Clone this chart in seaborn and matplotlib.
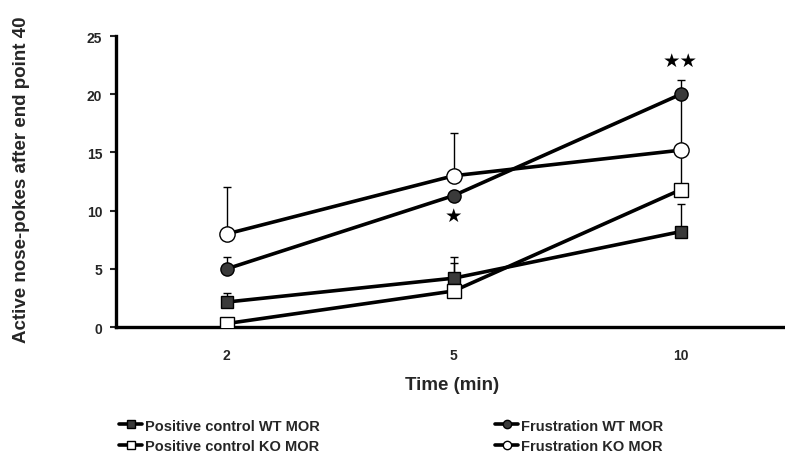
import numpy as np
import pandas as pd
import matplotlib
matplotlib.use("Agg")
import matplotlib.pyplot as plt
import seaborn as sns

sns.set_theme(style="white")
plt.rcParams['font.family'] = ['Liberation Sans', 'DejaVu Sans']

times = ["2", "5", "10"]
series_names = ["Positive control WT MOR", "Positive control KO MOR",
                "Frustration WT MOR", "Frustration KO MOR"]
pc_wt = [2.15, 4.2, 8.2]
pc_wt_err = [0.75, 1.8, 2.4]
pc_ko = [0.3, 3.1, 11.8]
pc_ko_err = [0.5, 2.4, 3.4]
fr_wt = [5.0, 11.3, 20.0]
fr_wt_err = [1.0, 0.0, 1.2]
fr_ko = [8.0, 13.0, 15.2]
fr_ko_err = [4.0, 3.7, 4.8]
stars = [("★", "5", 9.6), ("★★", "10", 22.9)]

values = [pc_wt, pc_ko, fr_wt, fr_ko]
errors = [pc_wt_err, pc_ko_err, fr_wt_err, fr_ko_err]
markers = ["s", "s", "o", "o"]
faces = ["#3a3a3a", "white", "#3a3a3a", "white"]
msizes = [9, 10.5, 9.5, 11]

fig = plt.figure(figsize=(7.85, 4.64), dpi=100)
ax = fig.add_axes([0.148, 0.293, 0.855, 0.627])

xpos = {t: i for i, t in enumerate(times)}
x = np.array([xpos[t] for t in times])

handles = []
for name, v, e, m, fc, ms in zip(series_names, values, errors, markers, faces, msizes):
    ax.errorbar(x, v, yerr=[np.zeros(len(e)), e], fmt="none", ecolor="black",
                elinewidth=1.0, capsize=3, capthick=1.0, zorder=2)
    df = pd.DataFrame({"x": x, "y": v})
    sns.lineplot(data=df, x="x", y="y", ax=ax, color="black", linewidth=2.6,
                 marker=m, markersize=ms, markerfacecolor=fc,
                 markeredgecolor="black", markeredgewidth=1.0, zorder=3)
    h, = ax.plot([], [], color="black", linewidth=2.6, marker=m, markersize=6,
                 markerfacecolor=fc, markeredgecolor="black", markeredgewidth=1.0)
    handles.append(h)

for s, t, yv in stars:
    ax.text(xpos[t], yv, s, ha="center", va="center", fontsize=14,
            family=["DejaVu Sans"], color="black")

ax.set_xlim(-0.487, 2.47)
ax.set_ylim(0, 25)
ax.set_yticks([0, 5, 10, 15, 20, 25])
ax.set_xticks(x)
ax.set_xticklabels(times)
for sp in ["top", "right"]:
    ax.spines[sp].set_visible(False)
for sp in ["left", "bottom"]:
    ax.spines[sp].set_color("black")
    ax.spines[sp].set_linewidth(2.4)
ax.tick_params(axis="y", direction="out", length=4, width=1.5, left=True,
               labelsize=10, pad=6)
ax.tick_params(axis="x", length=0, labelsize=10, pad=15)
for lab in ax.get_xticklabels() + ax.get_yticklabels():
    lab.set_fontweight("bold")

ax.set_xlabel("Time (min)", fontsize=13.5, fontweight="bold", labelpad=10)
ax.set_ylabel("Active nose-pokes after end point 40", fontsize=13.5,
              fontweight="bold")
ax.yaxis.set_label_coords(-0.128, 0.51)

fig.legend(handles, series_names, ncol=2, frameon=False,
           loc="upper left", bbox_to_anchor=(0.135, 0.124),
           handlelength=1.6, handletextpad=0.2, columnspacing=12.0,
           labelspacing=0.45, prop={"size": 10.5, "weight": "bold"})

fig.savefig("out.png", dpi=100)
